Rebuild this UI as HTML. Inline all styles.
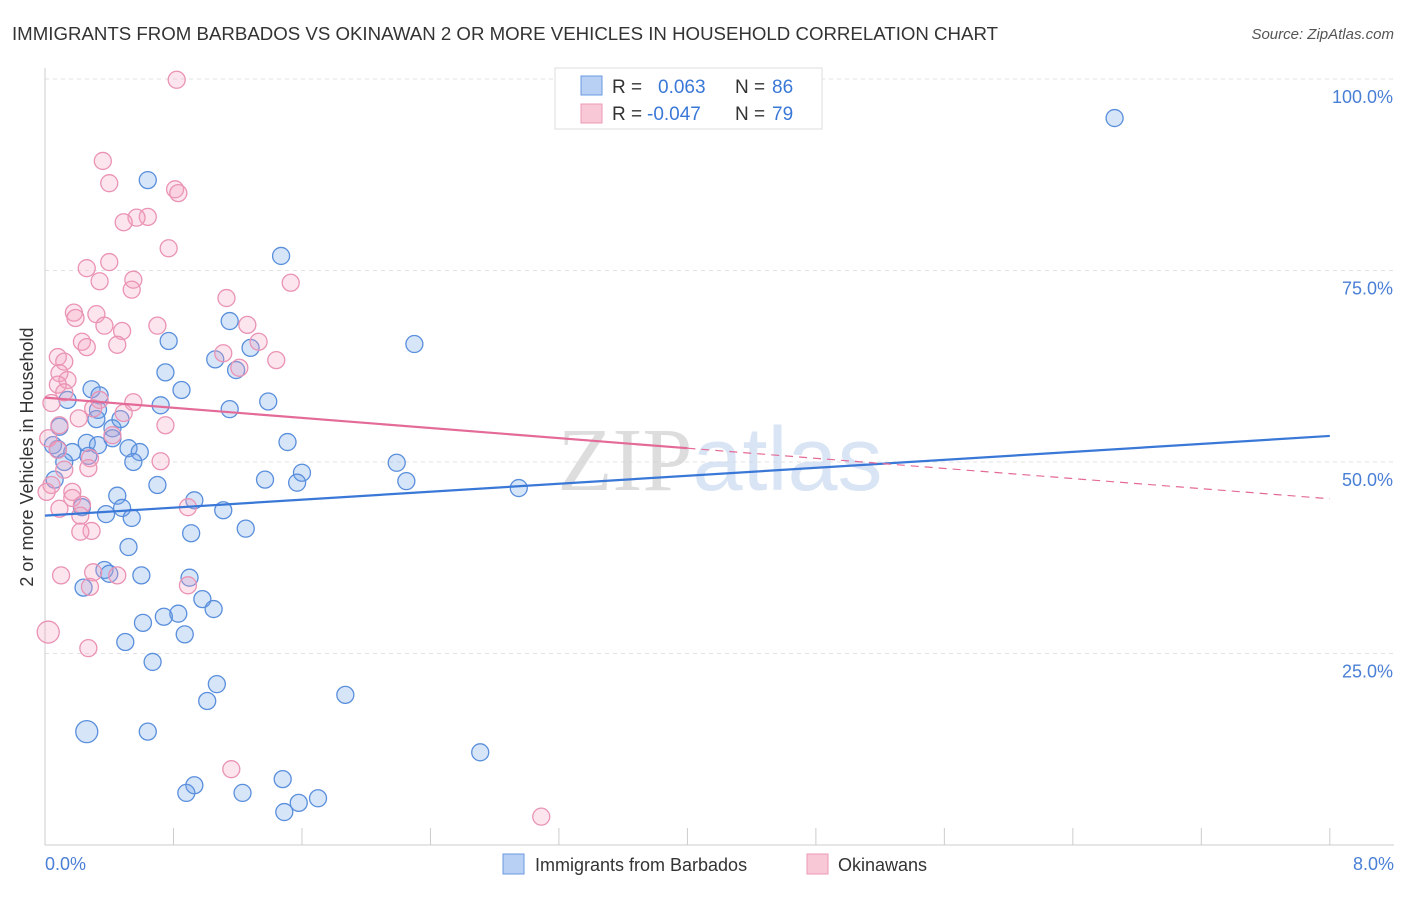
<!DOCTYPE html>
<html><head><meta charset="utf-8">
<style>
body{margin:0;background:#fff;font-family:"Liberation Sans",sans-serif;}
svg text{font-family:"Liberation Sans",sans-serif;}
</style></head>
<body>
<svg id="chart" width="1406" height="892" xmlns="http://www.w3.org/2000/svg">
<text x="12" y="40" font-size="18" fill="#333" textLength="986" lengthAdjust="spacingAndGlyphs">IMMIGRANTS FROM BARBADOS VS OKINAWAN 2 OR MORE VEHICLES IN HOUSEHOLD CORRELATION CHART</text>
<text x="1394" y="39" font-size="15" fill="#555" text-anchor="end" font-style="italic">Source: ZipAtlas.com</text>
<g id="grid"></g>
<text x="720" y="490" font-size="90" text-anchor="middle" fill="#ddd" opacity="0.7"><tspan font-family="Liberation Serif" fill="#d0d0d0">ZIP</tspan><tspan fill="#c9daf0">atlas</tspan></text>
<g id="marks"></g>
<text transform="translate(33,457) rotate(-90)" font-size="18" fill="#333" text-anchor="middle">2 or more Vehicles in Household</text>
<text x="45" y="870" font-size="18" fill="#4a7fd6">0.0%</text>
<text x="1394" y="870" font-size="18" fill="#4a7fd6" text-anchor="end">8.0%</text>
<g>
<rect x="555" y="68" width="267" height="61" fill="#fff" stroke="#ddd"/>
<rect x="581" y="76" width="21" height="19" fill="#b8d0f3" stroke="#6a9ae0"/>
<rect x="581" y="104" width="21" height="19" fill="#f9c8d7" stroke="#ec9ab6"/>
<text x="612" y="93" font-size="19" fill="#333">R =</text>
<text x="658" y="93" font-size="19" fill="#3a78d8">0.063</text>
<text x="735" y="93" font-size="19" fill="#333">N =</text>
<text x="772" y="93" font-size="19" fill="#3a78d8">86</text>
<text x="612" y="120" font-size="19" fill="#333">R =</text>
<text x="647" y="120" font-size="19" fill="#3a78d8">-0.047</text>
<text x="735" y="120" font-size="19" fill="#333">N =</text>
<text x="772" y="120" font-size="19" fill="#3a78d8">79</text>
</g>
<g>
<rect x="503" y="854" width="21" height="20" fill="#b8d0f3" stroke="#6a9ae0"/>
<text x="535" y="871" font-size="18" fill="#333">Immigrants from Barbados</text>
<rect x="807" y="854" width="21" height="20" fill="#f9c8d7" stroke="#ec9ab6"/>
<text x="838" y="871" font-size="18" fill="#333">Okinawans</text>
</g>
</svg>
<script>
const yTicks=[25,50,75,100];
const yTickLabels=["25.0%","50.0%","75.0%","100.0%"];
const xTicks=[0,0.8,1.6,2.4,3.2,4.0,4.8,5.6,6.4,7.2,8.0];
const blueX=[6.66,0.64,1.47,1.15,0.77,1.28,2.30,1.06,1.19,0.75,0.85,0.29,0.34,0.14,1.39,0.72,1.15,0.33,0.32,0.47,0.42,0.09,1.51,0.26,0.05,0.33,0.42,0.52,0.59,0.08,0.17,0.27,0.12,0.55,2.19,1.60,1.37,2.25,1.57,0.70,2.95,0.06,0.45,0.93,0.23,0.48,1.11,0.38,0.54,1.25,0.91,0.52,0.37,0.40,0.60,0.90,0.24,0.98,1.05,0.83,0.74,0.61,0.87,0.50,0.67,1.07,1.87,1.01,0.26,0.64,2.71,0.93,1.48,0.88,1.23,1.70,1.58,1.49];
const blueY=[94.9,86.8,76.9,68.4,65.8,64.9,65.4,63.4,62.0,61.7,59.4,59.5,58.7,58.1,57.9,57.4,56.9,56.8,55.6,55.6,54.4,54.6,52.6,52.5,52.2,52.2,53.1,51.8,51.3,51.7,51.3,50.8,50.0,50.0,49.9,48.6,47.7,47.5,47.3,47.0,46.6,47.7,45.6,45.0,44.1,44.0,43.7,43.2,42.7,41.3,40.7,38.9,35.9,35.4,35.2,34.9,33.6,32.1,30.8,30.2,29.8,29.0,27.5,26.5,23.9,21.0,19.6,18.8,14.8,14.8,12.1,7.8,8.6,6.8,6.8,6.1,5.5,4.3];
const pinkX=[0.82,0.81,0.83,0.36,0.40,0.64,0.57,0.49,0.77,0.40,0.26,1.53,0.55,0.34,0.54,1.13,0.18,0.32,0.19,0.37,0.70,1.26,0.48,0.23,0.45,0.26,1.33,1.11,0.08,0.12,1.44,1.21,0.09,0.14,0.08,0.12,0.04,0.34,0.55,0.30,0.49,0.21,0.09,0.75,0.02,0.42,0.08,0.28,0.72,0.12,0.27,0.04,0.17,0.01,0.17,0.89,0.09,0.23,0.22,0.29,0.22,0.10,0.30,0.45,0.28,0.89,0.02,0.27,1.16,3.09];
const pinkY=[99.9,85.6,85.1,89.3,86.4,82.0,81.9,81.3,77.9,76.1,75.3,73.4,73.8,73.6,72.5,71.4,69.5,69.3,68.8,67.8,67.8,67.9,67.1,65.7,65.3,65.0,65.7,64.2,63.7,63.1,63.3,62.3,61.6,60.7,60.1,59.1,57.7,58.1,57.8,57.0,56.4,55.7,54.8,54.8,53.1,53.5,51.6,50.5,50.1,49.0,49.2,47.0,46.1,46.1,45.3,44.1,43.9,44.4,43.0,41.0,40.9,35.2,35.6,35.2,33.7,33.9,27.8,25.7,9.9,3.7];
const blueTrend=[43.0,53.4];
const pinkTrend=[58.4,45.2];
const NS="http://www.w3.org/2000/svg";
const X=v=>45+v*160.6;
const Y=v=>845-v*7.66;
function mk(t,a,p){const e=document.createElementNS(NS,t);for(const k in a)e.setAttribute(k,a[k]);p.appendChild(e);return e;}
const grid=document.getElementById('grid'),marks=document.getElementById('marks');
yTicks.forEach((t,i)=>{
 const l=mk('line',{x1:45,x2:1394,y1:Y(t),y2:Y(t),stroke:'#e2e2e2','stroke-dasharray':'4,4'},grid);
 
 
 const tx=mk('text',{x:1393,y:Y(t)+24,'font-size':18,fill:'#4a7fd6','text-anchor':'end'},grid);
 tx.textContent=yTickLabels[i];
 
 
});
const ax=mk('line',{x1:45,x2:45,y1:68,y2:845,stroke:'#ccc'},grid);


const bx=mk('line',{x1:45,x2:1394,y1:845,y2:845,stroke:'#ccc'},grid);


xTicks.forEach(t=>{
 const l=mk('line',{x1:X(t),x2:X(t),y1:828,y2:845,stroke:'#ccc'},grid);
 
 
});
blueX.forEach((x,i)=>{
 const big=(i===68);
 const c=mk('circle',{cx:X(x),cy:Y(blueY[i]),r:big?11:8.5,fill:'rgba(110,160,235,0.28)',stroke:'#5a8fdc','stroke-width':1.3},marks);
 
 
});
pinkX.forEach((x,i)=>{
 const big=(i===66);
 const c=mk('circle',{cx:X(x),cy:Y(pinkY[i]),r:big?11:8.5,fill:'rgba(245,160,190,0.28)',stroke:'#ea93b4','stroke-width':1.3},marks);
 
 
});
const bt=mk('line',{x1:X(0),y1:Y(blueTrend[0]),x2:X(8),y2:Y(blueTrend[1]),stroke:'#3a78d8','stroke-width':2.2},marks);


const pm=pinkTrend[0]+(pinkTrend[1]-pinkTrend[0])*(4/8);
const pt=mk('line',{x1:X(0),y1:Y(pinkTrend[0]),x2:X(4),y2:Y(pm),stroke:'#e46a98','stroke-width':2.2},marks);


const pd=mk('line',{x1:X(4),y1:Y(pm),x2:X(8),y2:Y(pinkTrend[1]),stroke:'#e46a98','stroke-width':1.2,'stroke-dasharray':'8,6'},marks);


</script>
</body></html>
